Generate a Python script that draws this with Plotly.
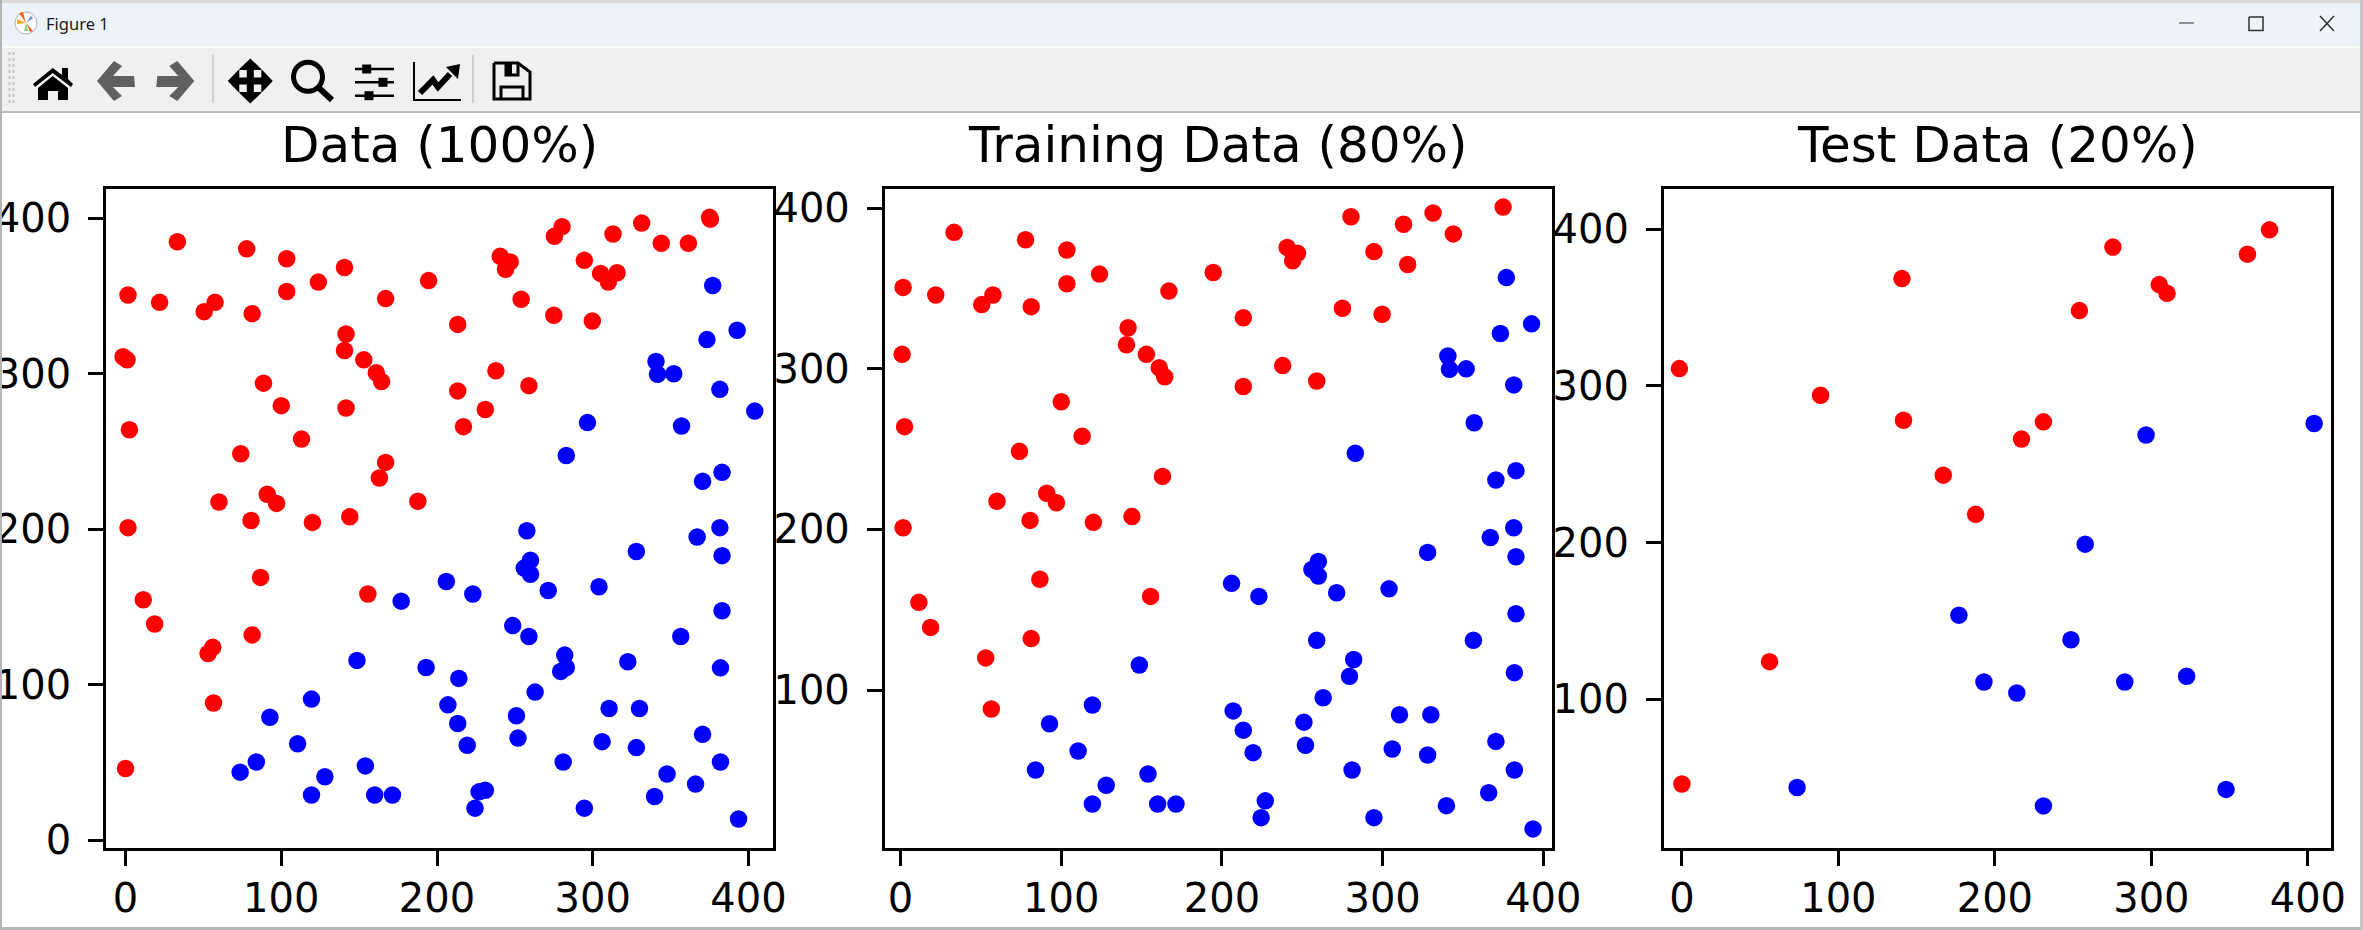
import plotly.graph_objects as go

W, H = 2363, 930

# Test split
test_red_x = [-1.6, 0, 56, 88.6, 140.6, 141.6, 167, 187.7, 217, 231, 254, 275.4, 305, 310, 361.4, 375.5]
test_red_y = [311, 46, 124, 294, 368.4, 278, 243, 218, 266, 277, 348, 388.5, 364.6, 359, 384, 399.5]
test_blue_x = [73.6, 177, 193, 214, 231, 248.6, 257.7, 283, 296.6, 322.5, 347.7, 404]
test_blue_y = [43.7, 153.7, 111, 104, 32, 138, 199, 111, 268.6, 114.7, 42.5, 276]

# Training split
train_red_x = [1.6, 21.9, 33.3, 50.5, 57.5, 77.8, 81.3, 103.5, 103.5, 123.8, 141.6, 140.6, 153, 161, 164.4,
               167, 194.6, 213.3, 213.3, 237.8, 240.6, 244, 247, 259, 275, 280.3, 294.6, 299.7, 313, 315.6,
               331.4, 344, 375, 1, 2.5, 100, 113, 74, 163, 60, 91, 97, 1.6, 80.6, 120, 144, 86.7, 155.6,
               11.4, 18.7, 81.3, 53, 56.5]
train_red_y = [350.7, 346, 385, 340, 346, 380.4, 338.7, 374, 353, 359, 325.6, 315, 309, 300.7, 295,
               348.4, 360, 331.8, 289, 302, 375.6, 367.3, 372, 292.4, 337.7, 394.7, 373, 334, 390, 365,
               397, 384, 400.7, 309, 264, 279.5, 258, 248.6, 233, 217.5, 222.5, 216.6, 201, 205.6, 204.4,
               208, 169, 158.3, 154.6, 139, 132, 120, 88.2]
train_blue_x = [377, 392.7, 373.3, 340.6, 341.6, 352, 381.6, 357, 283, 383, 370.5, 381.6, 367, 328, 383,
                260, 256, 260, 206, 223, 271.4, 304, 383, 259, 356.5, 282, 279.4, 382, 148.6, 119.4, 92.7,
                110.5, 84, 154, 128, 119.4, 160, 171.4, 227, 224.4, 207, 213.3, 219.4, 251, 252, 263, 281,
                294.6, 306, 310.5, 330, 328, 339.7, 366, 370.5, 382, 393.6]
train_blue_y = [356.8, 328, 322, 308, 299.7, 300, 290, 266.4, 247.4, 236.6, 230.8, 201, 195, 185.7, 183,
                180, 175, 171, 166.4, 158.3, 160.6, 163, 147.5, 131, 131, 119, 108.5, 110.8, 115.6, 90.7, 79,
                62, 50.2, 47.7, 40.7, 29, 29, 29, 31, 20.5, 87, 75, 61, 80, 65.6, 95.2, 50.2,
                20.5, 63.3, 84.6, 84.6, 59.5, 28, 36, 68, 50.2, 13.5]

titles = ["Data (100%)", "Training Data (80%)", "Test Data (20%)"]
ticks = [0, 100, 200, 300, 400]
y_ticks = [[0, 100, 200, 300, 400], [100, 200, 300, 400], [100, 200, 300, 400]]

# Axes boxes in pixels and their ranges (plotly draws the axis line just outside the box)
boxes = [(106.1, 772.5), (884.8, 1551.5), (1663.9, 2331.2)]
top, bottom = 188.8, 847.5
x_ranges = [[-12.46, 415.4], [-9.8, 405.1], [-11.5, 414.9]]
y_ranges = [[-4.8, 419.05], [1.93, 412.1], [5.45, 425.7]]

panels = [
    (train_blue_x + test_blue_x, train_blue_y + test_blue_y, train_red_x + test_red_x, train_red_y + test_red_y),
    (train_blue_x, train_blue_y, train_red_x, train_red_y),
    (test_blue_x, test_blue_y, test_red_x, test_red_y),
]

font = "DejaVu Sans"
fig = go.Figure()
annotations = []
axes = {}

for i, (bx, by, rx, ry) in enumerate(panels):
    n = "" if i == 0 else str(i + 1)
    fig.add_trace(go.Scatter(x=bx, y=by, mode="markers", marker=dict(color="#0000ff", size=17.5),
                             xaxis="x" + n, yaxis="y" + n))
    fig.add_trace(go.Scatter(x=rx, y=ry, mode="markers", marker=dict(color="#ff0000", size=17.5),
                             xaxis="x" + n, yaxis="y" + n))
    left, right = boxes[i]
    common = dict(showline=True, linecolor="black", linewidth=3, mirror=True, showgrid=False, zeroline=False,
                  automargin=False, ticks="outside", ticklen=15, tickwidth=3, tickcolor="black",
                  tickfont=dict(family=font, size=40, color="black"))
    axes["xaxis" + n] = dict(domain=[left / W, right / W], range=x_ranges[i], tickvals=ticks,
                             anchor="y" + n, ticklabelstandoff=-2, **common)
    axes["yaxis" + n] = dict(domain=[1 - bottom / H, 1 - top / H], range=y_ranges[i], tickvals=y_ticks[i],
                             anchor="x" + n, ticklabelstandoff=9, **common)
    annotations.append(dict(text=titles[i], x=(left + right) / 2 / W, y=1 - 176 / H, xref="paper", yref="paper",
                            xanchor="center", yanchor="bottom", showarrow=False,
                            font=dict(family=font, size=50, color="black")))


# Window chrome, everything below is in window pixels
def path(points, close=True):
    d = "M" + "L".join(f"{x / W:.5f},{1 - y / H:.5f}" for x, y in points)
    return d + ("Z" if close else "")


shapes = []


def poly(points, color):
    shapes.append(dict(type="path", path=path(points), xref="paper", yref="paper",
                       fillcolor=color, line=dict(width=0)))


def stroke(points, color="black", width=2.0, dash="solid"):
    shapes.append(dict(type="path", path=path(points, close=False), xref="paper", yref="paper",
                       line=dict(color=color, width=width, dash=dash)))


def rect(x0, y0, x1, y1, color):
    poly([(x0, y0), (x1, y0), (x1, y1), (x0, y1)], color)


def ring(cx, cy, r, fill, color, width):
    shapes.append(dict(type="circle", xref="paper", yref="paper", x0=(cx - r) / W, x1=(cx + r) / W,
                       y0=1 - (cy + r) / H, y1=1 - (cy - r) / H, fillcolor=fill,
                       line=dict(color=color, width=width)))


rect(0, 0, W, 3, "#d9d9d9")
rect(0, 3, W, 46, "#eef3fa")
rect(0, 46, W, 48, "#fbfbfb")
rect(0, 48, W, 111, "#f0f0f0")
rect(0, 111, W, 113, "#bdbdbd")
rect(0, 0, 2, H, "#b4b4b4")
rect(0, 927, W, H, "#b4b4b4")
rect(2360, 0, W, H, "#c4c4c4")

# logo
ring(26, 23, 11, "white", "#b0b0b0", 1)
poly([(26, 23), (17, 19), (17, 24)], "#f5a623")
poly([(26, 23), (19, 13), (23, 12)], "#f0641e")
poly([(26, 23), (33, 31), (30, 32)], "#f0641e")
poly([(26, 23), (24, 31), (28, 31)], "#8fd07a")
poly([(26, 23), (33, 18), (31, 16)], "#5a8fd0")

# grip and separators
stroke([(9.5, 52), (9.5, 105)], "#c4c4c4", 2, "dot")
stroke([(13.5, 52), (13.5, 105)], "#c4c4c4", 2, "dot")
stroke([(213, 55), (213, 103)], "#cfcfcf", 2)
stroke([(473, 55), (473, 103)], "#cfcfcf", 2)

# home
poly([(52.7, 68), (62, 75), (62, 68), (68, 68), (68, 79), (73, 84), (71, 87), (52.7, 73), (35, 87), (33, 84)], "black")
poly([(52.7, 76), (68, 88), (68, 100), (58, 100), (58, 91), (48, 91), (48, 100), (38, 100), (38, 88)], "black")

# back / forward
arrow = [(97, 81), (114, 61), (122, 66), (113, 76), (134, 76), (135, 87), (113, 87), (122, 96), (114, 101)]
poly(arrow, "#606060")
poly([(291.3 - x, y) for x, y in arrow], "#606060")

# pan
cx, cy = 250.3, 81
pan = [(22.5, 0), (11, 12), (11, 3.5), (3.5, 3.5), (3.5, 11), (12, 11), (0, 22.5), (-12, 11), (-3.5, 11), (-3.5, 3.5),
       (-11, 3.5), (-11, 12), (-22.5, 0), (-11, -12), (-11, -3.5), (-3.5, -3.5), (-3.5, -11), (-12, -11), (0, -22.5),
       (12, -11), (3.5, -11), (3.5, -3.5), (11, -3.5), (11, -12)]
poly([(cx + x, cy + y) for x, y in pan], "black")

# zoom
ring(308, 76.7, 14.5, "rgba(0,0,0,0)", "black", 5)
stroke([(318, 87), (332, 100)], "black", 6)

# sliders
for y, kx in [(69, 366.7), (82.3, 383), (95.7, 369)]:
    stroke([(355, y), (394, y)], "black", 2.5)
    rect(kx - 4.5, y - 4.5, kx + 4.5, y + 4.5, "black")

# chart
stroke([(414, 62), (414, 100), (461, 100)], "black", 2)
stroke([(420, 93), (433, 80), (438, 87), (450, 74)], "black", 6)
poly([(460, 64), (446, 67), (458, 79)], "black")

# save
stroke([(494, 63), (518, 63), (530, 72), (530, 99), (494, 99), (494, 63)], "black", 3)
stroke([(506, 63), (506, 75), (518, 75), (518, 63)], "black", 3)
rect(505, 63, 512, 75, "black")
stroke([(501, 99), (501, 87), (523, 87), (523, 99)], "black", 3)

# window buttons
stroke([(2179, 23), (2194, 23)], "#303030", 1)
stroke([(2249, 17), (2263, 17), (2263, 30.5), (2249, 30.5), (2249, 17)], "#303030", 1.5)
stroke([(2320, 16), (2334, 31)], "#303030", 1.5)
stroke([(2334, 16), (2320, 31)], "#303030", 1.5)

annotations.append(dict(text="Figure 1", x=44 / W, y=1 - 24 / H, xref="paper", yref="paper", xanchor="left",
                        yanchor="middle", showarrow=False, font=dict(family="Noto Sans", size=16.5, color="#1a1a1a")))

fig.update_layout(width=W, height=H, autosize=False, margin=dict(l=0, r=0, t=0, b=0), showlegend=False,
                  paper_bgcolor="white", plot_bgcolor="white", annotations=annotations, shapes=shapes, **axes)

fig.write_html("out.html", post_script="document.body.style.margin='0';document.body.style.overflow='hidden';",
               config={"displayModeBar": False})
